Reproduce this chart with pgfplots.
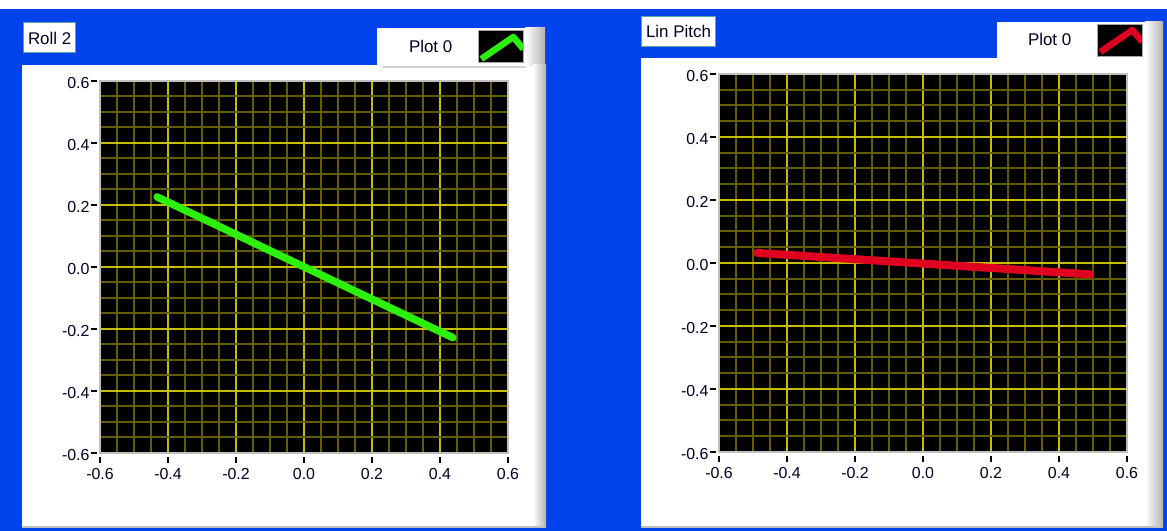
\documentclass[border=0pt]{standalone}
\usepackage{fontspec}
\setmainfont{Liberation Sans}
\usepackage{pgfplots}
\pgfplotsset{compat=1.18}
\definecolor{lvblue}{RGB}{0,66,235}
\definecolor{gridmaj}{RGB}{200,188,0}
\definecolor{gridmin}{RGB}{100,92,0}
\definecolor{lvgreen}{RGB}{45,240,10}
\definecolor{lvred}{RGB}{222,0,30}
\definecolor{boxedge}{RGB}{90,165,165}
\pgfplotsset{
  lvaxis/.style={
    scale only axis, anchor=south west,
    xmin=-0.6, xmax=0.6, ymin=-0.6, ymax=0.6,
    xtick={-0.6,-0.4,-0.2,0,0.2,0.4,0.6},
    ytick={-0.6,-0.4,-0.2,0,0.2,0.4,0.6},
    minor xtick={-0.55,-0.5,-0.45,-0.35,-0.3,-0.25,-0.15,-0.1,-0.05,0.05,0.1,0.15,0.25,0.3,0.35,0.45,0.5,0.55},
    minor ytick={-0.55,-0.5,-0.45,-0.35,-0.3,-0.25,-0.15,-0.1,-0.05,0.05,0.1,0.15,0.25,0.3,0.35,0.45,0.5,0.55},
    grid=both,
    major grid style={gridmaj, line width=2bp},
    minor grid style={gridmin, line width=2bp},
    axis background/.style={fill=black},
    axis line style={gray!50, line width=1.5bp},
    tick align=outside,
    major tick length=6bp, minor tick length=0pt,
    xtick pos=bottom, ytick pos=left,
    xtick style={black, line width=1.2bp, yshift=-4bp},
    ytick style={black, line width=1.2bp, xshift=-3bp},
    tick label style={font=\fontsize{16}{18}\selectfont, text=black!85!blue},
    xticklabel style={yshift=-6bp},
    yticklabel style={xshift=-1bp, yshift=-2bp},
    /pgf/number format/.cd, fixed, fixed zerofill, precision=1, assume math mode=true,
    /pgfplots/.cd,
    title style={draw=boxedge, fill=white, line width=1bp, inner xsep=4.5bp,
      minimum height=30bp, anchor=west, font=\fontsize{17}{20}\selectfont, text=black!85!blue},
    legend plot pos=right,
    legend style={draw=none, fill=none, inner sep=0pt, anchor=east,
      font=\fontsize{17}{20}\selectfont, text=black!85!blue},
    legend image code/.code={
      \path[draw=none, fill=none] (0bp,0bp);
      \fill[black, draw=none] (24bp,-16bp) rectangle (69bp,16bp);
      \begin{scope}
        \path[clip, draw=none, fill=none] (24bp,-16bp) rectangle (69bp,16bp);
        \draw[line width=6.5bp, line cap=butt, line join=round, fill=none] (27bp,-12bp) -- (59bp,10bp) -- (69bp,-2bp);
      \end{scope}
      \draw[gray!70, line width=1bp, fill=none] (24bp,-16bp) rectangle (69bp,16bp);
    },
  }
}
\begin{document}
\begin{tikzpicture}[x=1bp, y=1bp]
\useasboundingbox (0,0) rectangle (1167,531);
\begin{scope}[yshift=531bp, yscale=-1]
% background
\fill[white] (0,0) rectangle (1167,9);
\fill[lvblue] (0,9) rectangle (1167,531);
% left panel
\fill[white] (22,65) rectangle (534,527);
\fill[white] (377,28) rectangle (526,66);
\shade[left color=white, right color=gray!60] (525,28) rectangle (545,66);
\shade[left color=white, right color=gray!60] (533,65) rectangle (546,527);
\draw[gray!35, line width=1.5bp] (383,67) -- (526,67);
\draw[gray!50, line width=1.5bp] (22,527) -- (546,527);
% right panel
\fill[white] (641,58) rectangle (1146,527);
\fill[white] (997,22) rectangle (1146,59);
\shade[left color=white, right color=gray!60] (1145,22) rectangle (1163,527);
\draw[gray!50, line width=1.5bp] (641,527) -- (1163,527);
\end{scope}

\begin{axis}[lvaxis, at={(100bp,78bp)}, width=408bp, height=372bp,
  title={Roll 2}, title style={at={(-0.1887,1.0995)}},
  legend style={at={(1.0392,1.0914)}}]
\addplot[lvgreen, line width=7.5bp, line cap=round] coordinates {(-0.432,0.226) (0.438,-0.228)};
\addlegendentry{Plot 0}
\end{axis}

\begin{axis}[lvaxis, at={(719bp,79bp)}, width=408bp, height=378bp,
  title={Lin Pitch}, title style={at={(-0.1912,1.0979)}},
  legend style={at={(1.0392,1.0899)}}]
\addplot[lvred, line width=8bp, line cap=round] coordinates {(-0.488,0.032) (0.491,-0.036)};
\addlegendentry{Plot 0}
\end{axis}
\end{tikzpicture}
\end{document}
